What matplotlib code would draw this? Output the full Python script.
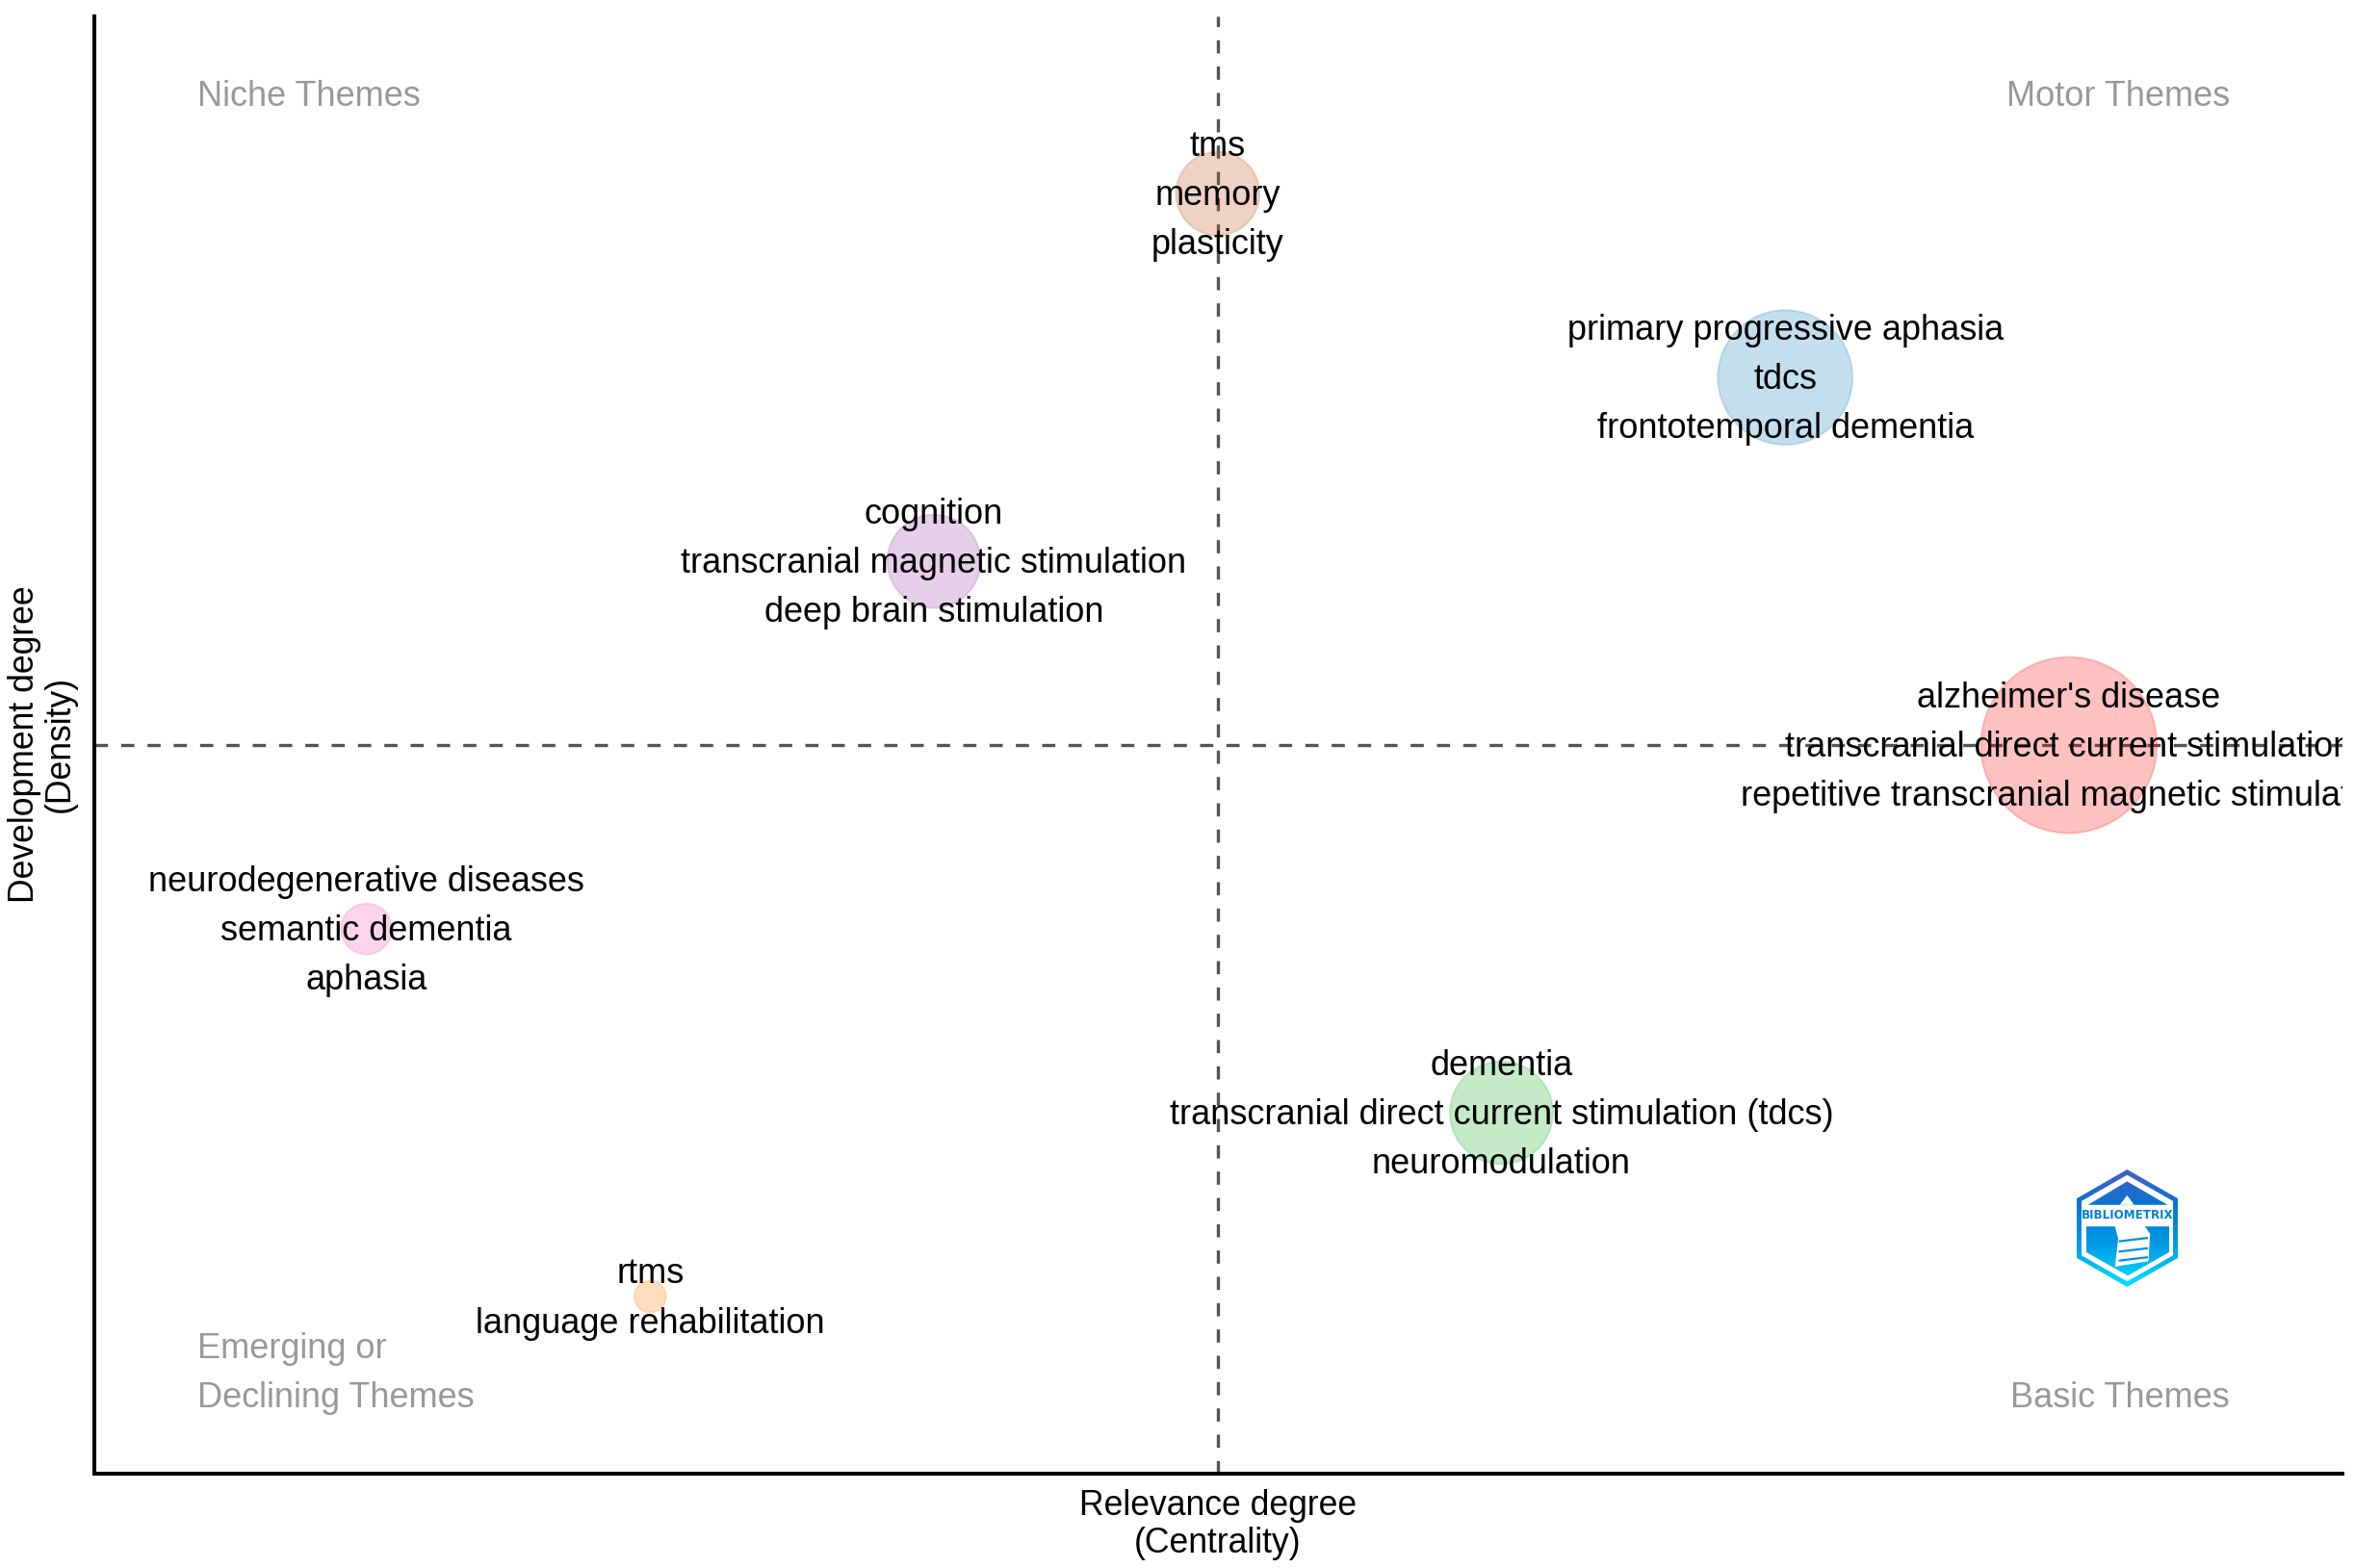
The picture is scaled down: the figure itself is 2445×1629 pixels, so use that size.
import numpy as np
import matplotlib
matplotlib.use('Agg')
import matplotlib.pyplot as plt
from matplotlib.path import Path
from matplotlib.patches import PathPatch, Polygon

plt.rcParams['font.family'] = ['Liberation Sans', 'DejaVu Sans']

# cluster labels, top word first
cluster_labels = [
    "alzheimer's disease\ntranscranial direct current stimulation\nrepetitive transcranial magnetic stimulation",
    "primary progressive aphasia\ntdcs\nfrontotemporal dementia",
    "dementia\ntranscranial direct current stimulation (tdcs)\nneuromodulation",
    "cognition\ntranscranial magnetic stimulation\ndeep brain stimulation",
    "tms\nmemory\nplasticity",
    "neurodegenerative diseases\nsemantic dementia\naphasia",
    "rtms\nlanguage rehabilitation",
]
# rank of each cluster on both axes
centrality = [7, 6, 5, 3, 4, 1, 2]
density = [4, 6, 2, 5, 7, 3, 1]
# bubble diameter (pixels)
bubble_size = [183, 140, 107, 97, 87, 53, 33]
bubble_colors = ['#FF1616', '#2485C0', '#28B537', '#A251AA', '#C45C28', '#F467B9', '#F88C16']

centre_x = 4
centre_y = 4

W, H = 2445, 1629
fig = plt.figure(figsize=(W/100, H/100), dpi=100)
L, R, T, B = 98, 2433, 17, 1531
ax = fig.add_axes([L/W, 1-B/H, (R-L)/W, (B-T)/H])
ax.set_xlim(0.041, 7.964)
ax.set_ylim(0.037, 7.964)
ax.set_xticks([])
ax.set_yticks([])
ax.spines['top'].set_visible(False)
ax.spines['right'].set_visible(False)
ax.spines['left'].set_linewidth(2.9)
ax.spines['bottom'].set_linewidth(2.9)

# median lines
ax.axvline(centre_x, color='#555555', lw=2.4, dashes=(4.1, 4.1), zorder=1)
ax.axhline(centre_y, color='#555555', lw=2.4, dashes=(4.1, 4.1), zorder=1)

# pixel diameter -> points^2
px2pt = 72/100
sizes = [(d*px2pt)**2 for d in bubble_size]
ax.scatter(centrality, density, s=sizes, c=bubble_colors, alpha=0.27, linewidths=0, zorder=2)
ax.scatter(centrality, density, s=sizes, facecolors='none', edgecolors=bubble_colors,
           alpha=0.2, linewidths=1.5, zorder=2)

# the labels get clipped at the right edge of the panel
for x, y, lab in zip(centrality, density, cluster_labels):
    ax.annotate(lab, (x, y), xytext=(0, -1.7), textcoords='offset points', ha='center',
                va='center', ma='center', fontsize=26.0, color='black', linespacing=1.6,
                clip_on=True, zorder=3)

# quadrant names
grey = '#999999'
def quad(px, py, s, ha):
    fig.text(px/W, 1-py/H, s, ha=ha, va='center', fontsize=26.0, color=grey, linespacing=1.6)
quad(205, 101, 'Niche Themes', 'left')
quad(2316, 101, 'Motor Themes', 'right')
quad(205, 1427, 'Emerging or\nDeclining Themes', 'left')
quad(2316, 1453, 'Basic Themes', 'right')

# axis titles
fig.text(1265/W, 1-1584/H, 'Relevance degree\n(Centrality)', ha='center', va='center',
         fontsize=25.6, linespacing=1.17)
fig.text(44/W, 1-773/H, 'Development degree\n(Density)', ha='center', va='center',
         rotation=90, fontsize=25.6, linespacing=1.07)

# bibliometrix logo, gradient clipped to a hexagon ring and inner shapes
logo = fig.add_axes([2157/W, 1-1337/H, 105/W, 122/H])
logo.set_xlim(320, 637)
logo.set_ylim(560, 195)
logo.axis('off')
grad = np.linspace(0, 1, 256)[:, None]
cmap = matplotlib.colors.LinearSegmentedColormap.from_list(
    'logo', ['#4a5fc4', '#0078d4', '#009fe8', '#00e5ff'])
im = logo.imshow(grad, cmap=cmap, extent=(320, 637, 560, 195), aspect='auto')
outer = [(478, 195), (637, 285), (637, 470), (478, 560), (320, 470), (320, 285), (478, 195)]
inner = [(478, 212), (622, 293), (622, 462), (478, 543), (335, 462), (335, 293), (478, 212)][::-1]
upper = [(478, 232), (605, 305), (355, 305), (478, 232)]
lower = [(350, 372), (610, 372), (610, 452), (480, 525), (350, 452), (350, 372)]
verts, codes = [], []
for poly in (outer, inner, upper, lower):
    verts += poly
    codes += [Path.MOVETO] + [Path.LINETO]*(len(poly)-2) + [Path.CLOSEPOLY]
clip = PathPatch(Path(verts, codes), transform=logo.transData, fc='none', ec='none')
logo.add_patch(clip)
im.set_clip_path(clip)
# white tower
logo.add_patch(Polygon([(478, 275), (500, 305), (455, 305)], fc='white', ec='none'))
logo.add_patch(Polygon([(438, 365), (525, 360), (550, 395), (545, 480), (440, 497), (450, 410)],
                       fc='white', ec='none'))
for yy in (418, 450, 478):
    logo.plot([455, 540], [yy, yy-10], color='#0090e0', lw=1.6)
logo.text(478, 337, 'BIBLIOMETRIX', ha='center', va='center', fontsize=8.6, fontweight='bold',
          color='#0080d8', family='DejaVu Sans')

fig.savefig('out.png', dpi=100)
